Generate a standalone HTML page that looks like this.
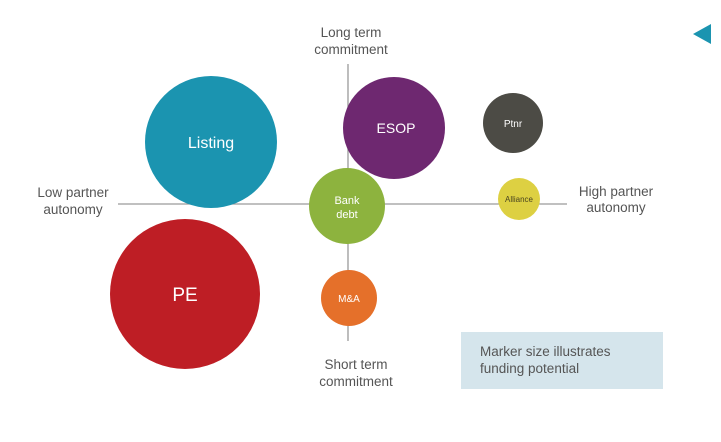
<!DOCTYPE html>
<html><head><meta charset="utf-8"><style>
body{margin:0;background:#fff}
svg{display:block;font-family:"Liberation Sans",sans-serif}
</style></head><body>
<svg width="721" height="442" viewBox="0 0 721 442" xmlns="http://www.w3.org/2000/svg">
<rect width="721" height="442" fill="#fff"/>
<line x1="118" y1="204" x2="567" y2="204" stroke="#9a9a9a" stroke-width="1.3"/>
<line x1="348" y1="64" x2="348" y2="341" stroke="#9a9a9a" stroke-width="1.3"/>
<polygon points="693,34 711,24 711,44" fill="#1b94b0"/>
<circle cx="211" cy="142" r="66" fill="#1b94b0"/>
<circle cx="185" cy="294" r="75" fill="#be1e25"/>
<circle cx="394" cy="128" r="51" fill="#6e2870"/>
<circle cx="513" cy="123" r="30" fill="#4c4b45"/>
<circle cx="347" cy="206" r="38" fill="#8db33e"/>
<circle cx="519" cy="199" r="21" fill="#ddd042"/>
<circle cx="349" cy="298" r="28" fill="#e5702a"/>
<g fill="#fff" text-anchor="middle">
<text x="211" y="148" font-size="16">Listing</text>
<text x="185" y="301" font-size="19">PE</text>
<text x="396" y="133" font-size="14">ESOP</text>
<text x="513" y="127" font-size="10">Ptnr</text>
<text x="347" y="204" font-size="11">Bank</text>
<text x="347" y="218" font-size="11">debt</text>
<text x="349" y="302" font-size="10">M&amp;A</text>
</g>
<text x="519" y="202" font-size="8" fill="#4a4520" text-anchor="middle">Alliance</text>
<g fill="#555" font-size="13.5" text-anchor="middle">
<text x="351" y="37">Long term</text>
<text x="351" y="54">commitment</text>
<text x="73" y="197">Low partner</text>
<text x="73" y="214">autonomy</text>
<text x="616" y="196">High partner</text>
<text x="616" y="212">autonomy</text>
<text x="356" y="369">Short term</text>
<text x="356" y="386">commitment</text>
</g>
<rect x="461" y="332" width="202" height="57" fill="#d5e5ec"/>
<text x="480" y="356" font-size="13.5" fill="#555">Marker size illustrates</text>
<text x="480" y="373" font-size="13.5" fill="#555">funding potential</text>
</svg>
</body></html>
